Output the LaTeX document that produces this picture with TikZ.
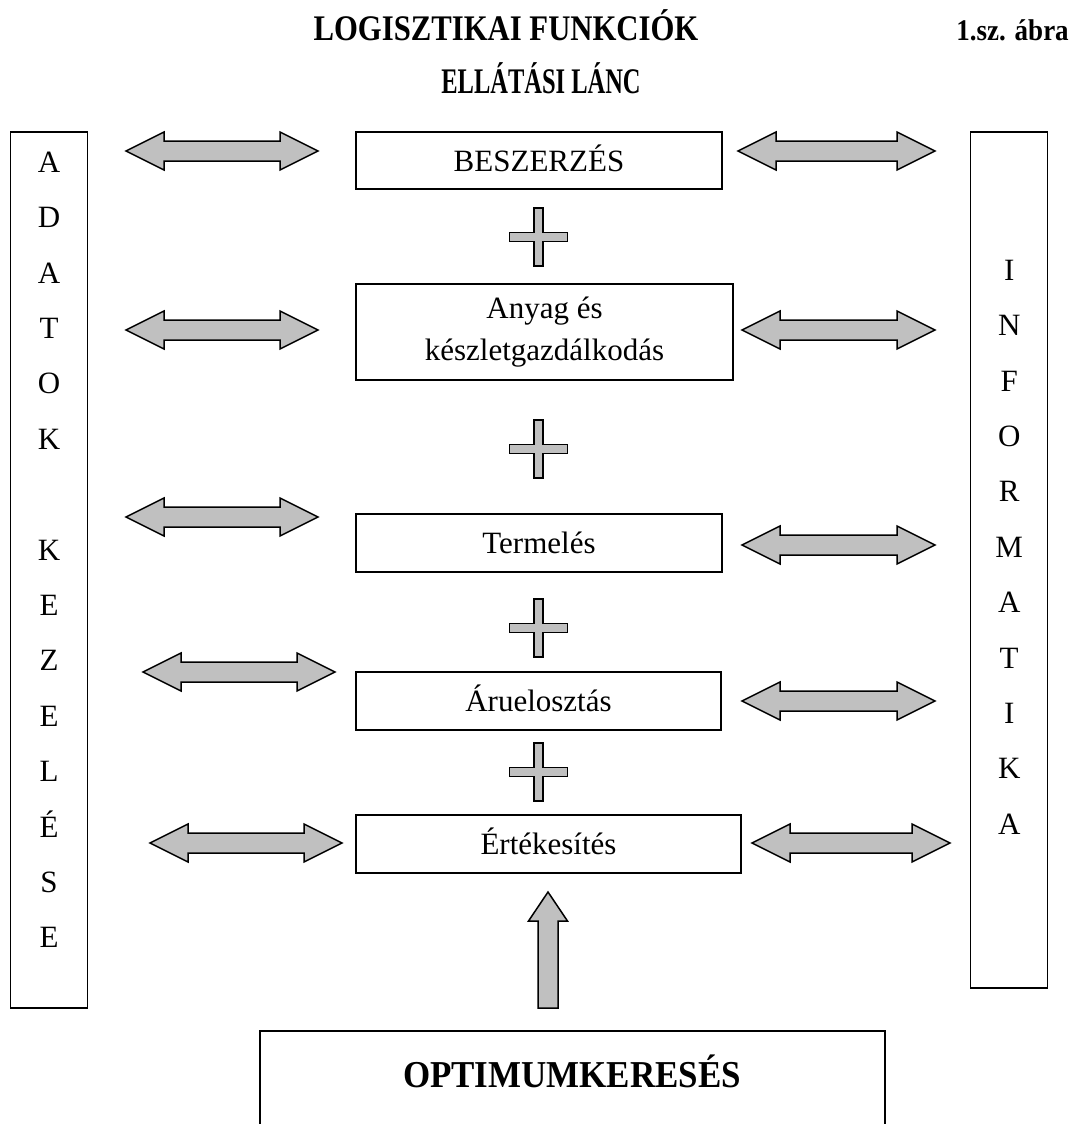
\documentclass[tikz,border=0pt]{standalone}
\usepackage{fontspec}
\setmainfont{Liberation Serif}
\definecolor{arrgray}{RGB}{192,192,192}
\newcommand\dblarr[4]{% name, left tip x, right tip x, y
  \coordinate (#1-l) at (#2,#4);
  \coordinate (#1-r) at (#3,#4);
  \draw[shp] (#1-l) -- ({#2+38},{#4-19}) -- ({#2+38},{#4-10}) -- ({#3-38},{#4-10})
    -- ({#3-38},{#4-19}) -- (#1-r) -- ({#3-38},{#4+19}) -- ({#3-38},{#4+10})
    -- ({#2+38},{#4+10}) -- ({#2+38},{#4+19}) -- cycle;}
\newcommand\plusmark[3]{% name, x, y
  \coordinate (#1) at (#2,#3);
  \draw[shp] ({#2-4.5},{#3-29}) -- ({#2+4.5},{#3-29}) -- ({#2+4.5},{#3-4.5})
    -- ({#2+29},{#3-4.5}) -- ({#2+29},{#3+4.5}) -- ({#2+4.5},{#3+4.5})
    -- ({#2+4.5},{#3+29}) -- ({#2-4.5},{#3+29}) -- ({#2-4.5},{#3+4.5})
    -- ({#2-29},{#3+4.5}) -- ({#2-29},{#3-4.5}) -- ({#2-4.5},{#3-4.5}) -- cycle;}
\tikzset{
  box/.style={draw=black, line width=1.5pt, fill=white, inner sep=0pt,
    font=\fontsize{31}{42}\selectfont, text height=21pt, text depth=0pt},
  letter/.style={anchor=base, inner sep=0pt, font=\fontsize{31}{36}\selectfont},
  shp/.style={draw=black, line width=1.5pt, fill=arrgray, line join=miter},
  ttl/.style={anchor=base, inner sep=0pt, font=\bfseries\fontsize{36}{40}\selectfont},
}
\begin{document}
\begin{tikzpicture}[x=1pt,y=-1pt]
\useasboundingbox (0,0) rectangle (1077,1124);
\fill[white] (0,0) rectangle (1077,1124);

% titles
\node[ttl] (t1) at (506,41) {\scalebox{0.853}[1]{LOGISZTIKAI FUNKCIÓK}};
\node[ttl] (t2) at (541,93) {\scalebox{0.68}[1]{ELLÁTÁSI LÁNC}};
\node[ttl, font=\bfseries\fontsize{30}{34}\selectfont] (t3) at (1012.5,41) {\scalebox{0.9}[1]{1.sz. ábra}};

% side boxes
\node[box, minimum width=76.6, minimum height=876] (adat) at (49,570) {};
\node[box, minimum width=77, minimum height=856] (info) at (1009.2,560) {};
\foreach \l/\k in {A/0,D/1,A/2,T/3,O/4,K/5,K/7,E/8,Z/9,E/10,L/11,É/12,S/13,E/14}
  \node[letter] (ad\k) at (49,{172.3+55.4*\k}) {\l};
\foreach \l/\k in {I/0,N/1,F/2,O/3,R/4,M/5,A/6,T/7,I/8,K/9,A/10}
  \node[letter] (in\k) at (1009.2,{280.3+55.4*\k}) {\l};

% central boxes
\node[box, minimum width=366, minimum height=57] (besz) at (539,160.5) {BESZERZÉS};
\node[box, minimum width=377, minimum height=96, text height=, text depth=, align=center] (anyag) at (544.5,332) {Anyag és\\készletgazdálkodás};
\node[box, minimum width=366, minimum height=58] (term) at (539,543) {Termelés};
\node[box, minimum width=365, minimum height=58] (aru) at (538.5,701) {Árueloszt\'as};
\node[box, minimum width=385, minimum height=58] (ert) at (548.5,844) {Értékesítés};

% plus signs
\plusmark{p1}{538.5}{237}
\plusmark{p2}{538.5}{449}
\plusmark{p3}{538.5}{628}
\plusmark{p4}{538.5}{772}

% double arrows
\dblarr{a1l}{126}{318}{151}
\dblarr{a1r}{738}{935}{151}
\dblarr{a2l}{126}{318}{330}
\dblarr{a2r}{742}{935}{330}
\dblarr{a3l}{126}{318}{517}
\dblarr{a3r}{742}{935}{545}
\dblarr{a4l}{143}{335}{672}
\dblarr{a4r}{742}{935}{701}
\dblarr{a5l}{150}{342}{843}
\dblarr{a5r}{752}{950}{843}

% up arrow
\coordinate (uptip) at (548,892);
\draw[shp] (uptip) -- (567.5,921) -- (558,921) -- (558,1008) -- (538,1008)
  -- (538,921) -- (528.5,921) -- cycle;

% optimum box (cut at bottom)
\coordinate (optl) at (260,1031);
\coordinate (optr) at (885,1031);
\draw[line width=1.5pt] (260,1124) -- (optl) -- (optr) -- (885,1124);
\node[anchor=base, inner sep=0pt, font=\bfseries\fontsize{38}{40}\selectfont] (opt) at (572,1087) {\scalebox{0.92}[1]{OPTIMUMKERESÉS}};
\end{tikzpicture}
\end{document}
